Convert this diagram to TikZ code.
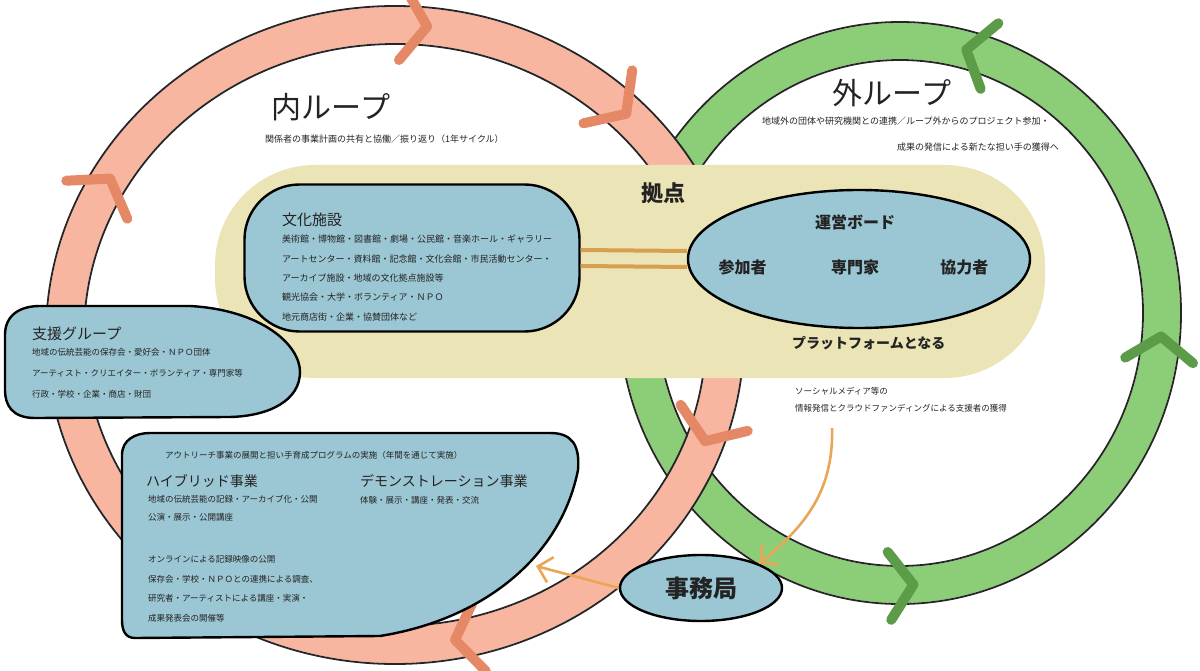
\documentclass[tikz,border=0pt]{standalone}
\usepackage{fontspec}
\setmainfont{Noto Sans CJK JP}
\usetikzlibrary{shapes.geometric, arrows.meta, decorations.markings, positioning}
\definecolor{salmon}{RGB}{248,182,160}
\definecolor{salmonchev}{RGB}{228,136,102}
\definecolor{leaf}{RGB}{140,206,120}
\definecolor{leafchev}{RGB}{92,156,72}
\definecolor{beige}{RGB}{234,228,182}
\definecolor{pooltone}{RGB}{155,198,211}
\definecolor{tanline}{RGB}{214,160,80}
\definecolor{arroworange}{RGB}{234,166,86}
\definecolor{ink}{RGB}{35,35,35}
\tikzstyle{band} = [line width=36pt]
\tikzstyle{rim} = [draw=black!85, line width=1.8pt]
\tikzstyle{chev} = [line width=10pt, line cap=round, line join=round]
\tikzstyle{pool} = [draw=black, fill=pooltone, line width=2.4pt]
\tikzstyle{loopttl} = [font=\fontsize{30}{32}\selectfont, text=ink, inner sep=0pt]
\tikzstyle{tiny} = [font=\fontsize{8.5}{10}\selectfont, text=ink, inner sep=0pt, anchor=base west]
\tikzstyle{block} = [text=ink, inner sep=0pt, anchor=north west, align=left]
\tikzstyle{head} = [font=\fontsize{14}{16}\selectfont, text=ink, inner sep=0pt, anchor=west]
\tikzstyle{item} = [font=\fontsize{16}{18}\selectfont\bfseries, text=ink, inner sep=0pt]
\tikzstyle{line} = [draw=arroworange, line width=2.6pt, -{Straight Barb[length=13pt, width=26pt, line width=2.6pt]}]

\begin{document}
\begin{tikzpicture}[x=1pt, y=-1pt]
        \useasboundingbox (0,0) rectangle (1200,671);

        % outer loop (runs the other way)
        \draw[band, draw=leaf] (900,313) ellipse [x radius=262, y radius=272];
        \draw[rim] (900,313) ellipse [x radius=281, y radius=291];
        \draw[rim] (900,313) ellipse [x radius=243, y radius=253];
        \path[decorate, decoration={markings,
            mark=at position 0.014 with {\draw[chev, leafchev] (24,-34) -- (0,0) -- (24,34);},
            mark=at position 0.242 with {\draw[chev, leafchev] (24,-34) -- (0,0) -- (24,34);},
            mark=at position 0.79 with {\draw[chev, leafchev] (24,-34) -- (0,0) -- (24,34);}}]
            (900,313) ellipse [x radius=262, y radius=272];

        % inner loop
        \draw[band, draw=salmon] (395,335) ellipse [x radius=330, y radius=310];
        \draw[rim] (395,335) ellipse [x radius=349, y radius=329];
        \draw[rim] (395,335) ellipse [x radius=311, y radius=291];
        \path[decorate, decoration={markings,
            mark=at position 0.054 with {\draw[chev, salmonchev] (-25,-36) -- (0,0) -- (-25,36);},
            mark=at position 0.22 with {\draw[chev, salmonchev] (-25,-36) -- (0,0) -- (-25,36);},
            mark=at position 0.582 with {\draw[chev, salmonchev] (-25,-36) -- (0,0) -- (-25,36);},
            mark=at position 0.766 with {\draw[chev, salmonchev] (-25,-36) -- (0,0) -- (-25,36);},
            mark=at position 0.876 with {\draw[chev, salmonchev] (-25,-36) -- (0,0) -- (-25,36);}}]
            (395,335) ellipse [x radius=330, y radius=310];

        \node[loopttl] (innerttl) at (331,107) {内ループ};
        \node[tiny, font=\fontsize{9}{10}\selectfont] (innersub) at (265,143) {関係者の事業計画の共有と協働／振り返り（1年サイクル）};

        \node[loopttl] (outerttl) at (892,93) {外ループ};
        \node[tiny, font=\fontsize{9}{10}\selectfont] (outersub) at (762,125) {地域外の団体や研究機関との連携／ループ外からのプロジェクト参加・};
        \node[tiny, font=\fontsize{9}{10}\selectfont] (outersubb) at (897,151) {成果の発信による新たな担い手の獲得へ};

        % hub
        \fill[beige, rounded corners=100pt] (215,165) rectangle (1045,378);
        \node[font=\fontsize{22}{24}\selectfont\bfseries, text=ink] (hub) at (663,193) {拠点};

        \node[pool, rectangle, rounded corners=55pt, minimum width=335pt, minimum height=147pt] (bunka) at (412,258) {};
        \node[head, font=\fontsize{15}{17}\selectfont] (bunkattl) at (282,220) {文化施設};
        \node[block, font=\fontsize{9}{19.3}\selectfont] (bunkatxt) at (282,235) {美術館・博物館・図書館・劇場・公民館・音楽ホール・ギャラリー\\アートセンター・資料館・記念館・文化会館・市民活動センター・\\アーカイブ施設・地域の文化拠点施設等\\観光協会・大学・ボランティア・ＮＰＯ\\地元商店街・企業・協賛団体など};

        \node[pool, ellipse, minimum width=342pt, minimum height=138pt] (board) at (859,259) {};
        \node[item] (boardttl) at (855,222) {運営ボード};
        \node[item] (board2) at (855,267) {専門家};
        \node[item, left=64pt of board2] (board1) {参加者};
        \node[item, right=61pt of board2] (board3) {協力者};

        \draw[tanline, line width=4pt] ([yshift=8pt]bunka.east) -- ([yshift=8pt]board.west);
        \draw[tanline, line width=4pt] ([yshift=-8pt]bunka.east) -- ([yshift=-8pt]board.west);

        \node[tiny, font=\fontsize{14}{16}\selectfont\bfseries] (platform) at (792,348) {プラットフォームとなる};
        \node[block, font=\fontsize{8.5}{17}\selectfont] (note) at (795,387.5) {ソーシャルメディア等の\\情報発信とクラウドファンディングによる支援者の獲得};

        % support group
        \draw[pool] (40,306) -- (190,306) .. controls (262,310) and (300,345) .. (300,372)
            .. controls (300,400) and (270,416) .. (230,417) -- (35,418)
            .. controls (12,418) and (5,405) .. (5,390) -- (5,335)
            .. controls (5,315) and (20,306) .. (40,306) -- cycle;
        \node[head, font=\fontsize{15}{17}\selectfont] (suppttl) at (32,334) {支援グループ};
        \node[block, font=\fontsize{8.5}{21}\selectfont] (supptxt) at (32,348.5) {地域の伝統芸能の保存会・愛好会・ＮＰＯ団体\\アーティスト・クリエイター・ボランティア・専門家等\\行政・学校・企業・商店・財団};

        % projects
        \draw[pool] (150,433) -- (550,433) .. controls (572,433) and (580,445) .. (578,470)
            .. controls (560,560) and (480,620) .. (380,636) -- (135,638)
            .. controls (125,638) and (122,630) .. (122,620) -- (122,455)
            .. controls (122,440) and (135,433) .. (150,433) -- cycle;
        \node[tiny] (projtop) at (165,458) {アウトリーチ事業の展開と担い手育成プログラムの実施（年間を通じて実施）};
        \node[head] (hybrid) at (146,481) {ハイブリッド事業};
        \node[head] (demo) at (360,481) {デモンストレーション事業};
        \node[block, font=\fontsize{8.5}{18}\selectfont] (hybridtxt) at (148,495.5) {地域の伝統芸能の記録・アーカイブ化・公開\\公演・展示・公開講座};
        \node[tiny] (demotxt) at (360,503) {体験・展示・講座・発表・交流};
        \node[block, font=\fontsize{8.5}{19.5}\selectfont] (archtxt) at (148,555.5) {オンラインによる記録映像の公開\\保存会・学校・ＮＰＯとの連携による調査、\\研究者・アーティストによる講座・実演・\\成果発表会の開催等};

        % office
        \node[pool, ellipse, minimum width=162pt, minimum height=66pt, font=\fontsize{24}{26}\selectfont\bfseries, text=ink] (jimu) at (701,588) {事務局};

        \coordinate (boxedge) at (536,566);
        \coordinate (notefoot) at (832,428);
        \path[line] (jimu.west) -- (boxedge);
        \path[line] (notefoot) .. controls (834,495) and (800,530) .. (jimu.north east);
    \end{tikzpicture}
\end{document}
